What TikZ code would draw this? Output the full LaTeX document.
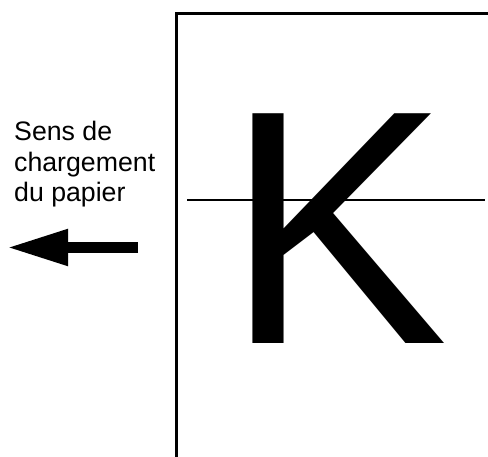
\documentclass[tikz,border=0pt]{standalone}
\usepackage{fontspec}
\setmainfont{Liberation Sans}
\usetikzlibrary{arrows.meta}
\tikzset{
  lbl/.style={anchor=base west, inner sep=0pt, font=\fontsize{26.7}{30.7}\selectfont},
  frame/.style={line width=3pt, line cap=rect},
  midline/.style={line width=1.5pt},
  feed/.style={line width=11pt, -{Triangle[length=61pt,width=34pt]}}
}
\begin{document}
\begin{tikzpicture}[x=1pt,y=-1pt]
\useasboundingbox (0,0) rectangle (488,457);
% paper frame
\coordinate (fb) at (176,462);
\coordinate (ftl) at (176,14);
\coordinate (fr) at (494,14);
\draw[frame] (fb) -- (ftl) -- (fr);
% letter K
\node[anchor=base west, inner sep=0pt, font=\fontsize{334}{334}\selectfont] (K) at (225.5,344) {K};
% horizontal line
\coordinate (hl) at (187,200);
\coordinate (hr) at (485,200);
\draw[midline] (hl) -- (hr);
% label
\node[lbl] (t1) at (14,140.5) {Sens de};
\node[lbl] (t2) at (14,171.2) {chargement};
\node[lbl] (t3) at (14,201.9) {du papier};
% arrow
\coordinate (as) at (138,247.5);
\coordinate (ae) at (7,247.5);
\draw[feed] (as) -- (ae);
\end{tikzpicture}
\end{document}
